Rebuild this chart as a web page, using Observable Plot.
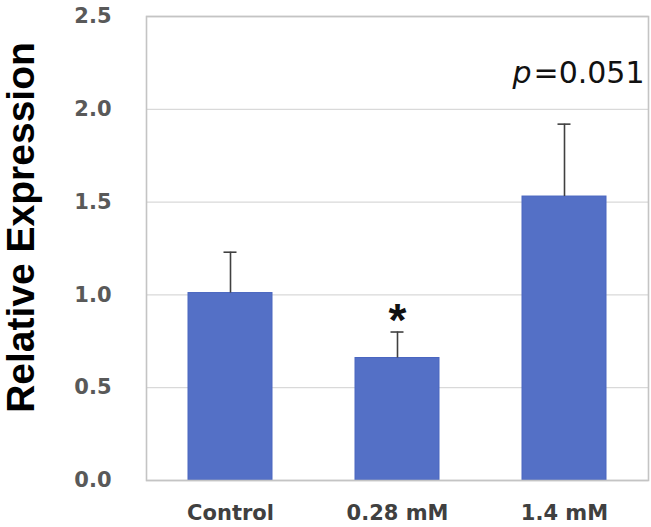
<!DOCTYPE html>
<html><head><meta charset="utf-8">
<script src="https://cdn.jsdelivr.net/npm/d3@7"></script>
<script src="https://cdn.jsdelivr.net/npm/@observablehq/plot@0.6"></script>
<style>body{margin:0;background:#fff}</style>
</head><body><div id="chart"></div>
<script>
const categories = ["Control", "0.28 mM", "1.4 mM"];
const means = [1.01, 0.66, 1.53];
const sems = [0.22, 0.14, 0.39];
const yTicks = [0, 0.5, 1.0, 1.5, 2.0, 2.5];
const starLabels = ["", "*", ""];
const pLabels = ["", "", "0.051"];

const data = categories.map((c, i) => ({
  cat: c, mean: means[i], top: means[i] + sems[i], star: starLabels[i], p: pLabels[i]
}));
const starData = data.filter(d => d.star);
const pData = data.filter(d => d.p);

const chart = Plot.plot({
  width: 651,
  height: 527,
  marginLeft: 146,
  marginRight: 3,
  marginTop: 16,
  marginBottom: 47,
  style: {fontFamily: "DejaVu Sans", background: "white"},
  x: {domain: categories, paddingInner: 0.5, paddingOuter: 0.25},
  y: {domain: [0, 2.5]},
  marks: [
    Plot.ruleY(yTicks, {stroke: "#d9d9d9", strokeWidth: 1.3}),
    Plot.barY(data, {x: "cat", y: "mean", fill: "#5470c6", stroke: "#4a66c0", strokeWidth: 1}),
    Plot.frame({stroke: "#c4c4c4", strokeWidth: 1.6}),
    Plot.ruleX(data, {x: "cat", y1: "mean", y2: "top", stroke: "#404040", strokeWidth: 1.6}),
    Plot.tickY(data, {x: "cat", y: "top", stroke: "#404040", strokeWidth: 1.6, insetLeft: 35.5, insetRight: 35.5}),
    Plot.text(starData, {x: "cat", y: "top", text: "star", fontFamily: "Liberation Sans", fontWeight: "bold", fontSize: 46, lineAnchor: "bottom", dy: 4, fill: "#111"}),
    Plot.text(pData, {x: "cat", y: "top", text: () => "p", fontStyle: "italic", fontSize: 30, textAnchor: "end", lineAnchor: "bottom", dx: -33, dy: -41, fill: "#111"}),
    Plot.text(pData, {x: "cat", y: "top", text: d => "=" + d.p, fontSize: 30, textAnchor: "start", lineAnchor: "bottom", dx: -31, dy: -41, fill: "#111"}),
    Plot.axisY({ticks: yTicks, tickSize: 0, tickPadding: 35, tickFormat: d => d.toFixed(1), fontSize: 21, fontWeight: "bold", fill: "#595959", label: null}),
    Plot.axisX({tickSize: 0, tickPadding: 25, fontSize: 21, fontWeight: "bold", fill: "#404040", label: null}),
    Plot.text(["Relative Expression"], {frameAnchor: "left", text: d => d, rotate: -90, dx: -125, dy: -21, textAnchor: "middle", lineAnchor: "middle", fontFamily: "Liberation Sans", fontWeight: "bold", fontSize: 39, fill: "#000"})
  ]
});
document.getElementById("chart").appendChild(chart);
</script>
</body></html>
